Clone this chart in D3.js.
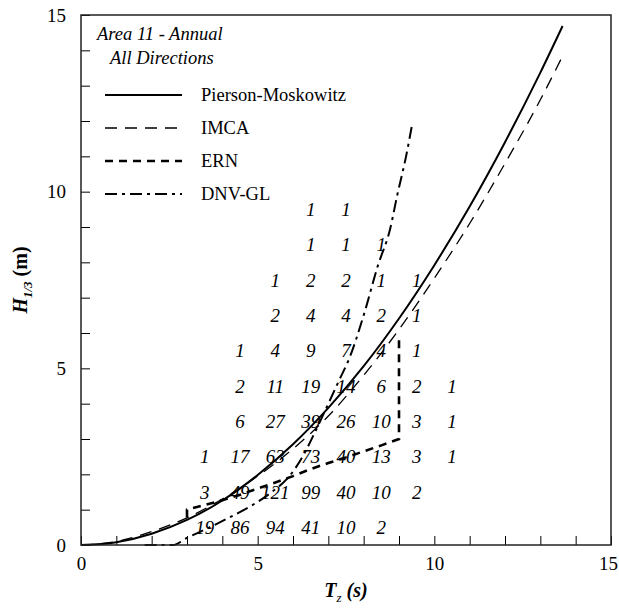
<!DOCTYPE html>
<html>
<head>
<meta charset="utf-8">
<script src="https://cdn.jsdelivr.net/npm/d3@7"></script>
<style>
  body { margin: 0; background: #fff; }
  svg text { font-family: "Liberation Serif", "Times New Roman", serif; fill: #000; }
</style>
</head>
<body>
<div id="chart"></div>
<script>
// Scatter table (number of observations) : Hs bin centres, first Tz bin of each row, counts
var hsRows   = [0.5, 1.5, 2.5, 3.5, 4.5, 5.5, 6.5, 7.5, 8.5, 9.5];
var tzFirst  = [3.5, 3.5, 3.5, 4.5, 4.5, 4.5, 5.5, 5.5, 6.5, 6.5];
var counts = [
  [19, 86, 94, 41, 10, 2],
  [3, 49, 121, 99, 40, 10, 2],
  [1, 17, 63, 73, 40, 13, 3, 1],
  [6, 27, 39, 26, 10, 3, 1],
  [2, 11, 19, 14, 6, 2, 1],
  [1, 4, 9, 7, 4, 1],
  [2, 4, 4, 2, 1],
  [1, 2, 2, 1, 1],
  [1, 1, 1],
  [1, 1]
];

// Curves (Tz, H1/3)
var pmTz  = [0, 1, 2, 3, 4, 5, 6, 7, 8, 9, 10, 11, 12, 13, 13.63];
var pmHs  = [0, 0.08, 0.32, 0.71, 1.26, 1.98, 2.85, 3.88, 5.06, 6.41, 7.92, 9.58, 11.4, 13.37, 14.69];

var imcaTz = [0, 1, 2, 3, 4, 5, 6, 7, 8, 9, 10, 11, 12, 13, 13.6];
var imcaHs = [0, 0.1, 0.38, 0.77, 1.3, 1.95, 2.72, 3.65, 4.8, 6.1, 7.55, 9.1, 10.8, 12.6, 13.78];

var ernTz = [3.0, 3.0, 3.5, 4.0, 4.5, 5.0, 5.5, 6.0, 6.5, 7.0, 7.5, 8.0, 8.5, 9.0, 9.0];
var ernHs = [0.78, 1.0, 1.13, 1.27, 1.42, 1.6, 1.77, 1.95, 2.15, 2.32, 2.48, 2.65, 2.82, 3.0, 5.88];

var dnvTz = [1.8, 2.6, 3.0, 3.6, 4.2, 4.8, 5.4, 5.9, 6.3, 6.6, 7.0, 7.3, 7.6, 8.0, 8.4, 8.75, 8.95, 9.2, 9.36];
var dnvHs = [0, 0, 0.2, 0.48, 0.78, 1.1, 1.5, 1.95, 2.55, 3.15, 4.0, 4.65, 5.3, 6.5, 7.9, 8.95, 9.9, 11.0, 11.84];

var seriesNames = ["Pierson-Moskowitz", "IMCA", "ERN", "DNV-GL"];

var W = 619, H = 610;
var margin = {top: 15, right: 8, bottom: 65, left: 81};
var w = 530, h = 530;

var svg = d3.select("#chart").append("svg")
  .attr("width", W).attr("height", H);
var g = svg.append("g").attr("transform", "translate(" + margin.left + "," + margin.top + ")");

var x = d3.scaleLinear().domain([0, 15]).range([0, w]);
var y = d3.scaleLinear().domain([0, 15]).range([h, 0]);

//Axes - ticks inside, every 1, labels every 5
var fmt = function(d) { return d % 5 === 0 ? d : ""; };
var xAxis = d3.axisBottom(x).tickValues(d3.range(0, 16)).tickSize(-9).tickPadding(12).tickFormat(fmt);
var yAxis = d3.axisLeft(y).tickValues(d3.range(0, 16)).tickSize(-9).tickPadding(15).tickFormat(fmt);

var gx = g.append("g").attr("transform", "translate(0," + h + ")").call(xAxis);
var gy = g.append("g").call(yAxis);
[gx, gy].forEach(function(a) {
  a.select(".domain").remove();
  a.selectAll(".tick line").attr("stroke", "#000").attr("stroke-width", 1);
  a.selectAll(".tick text").attr("font-size", 19).attr("font-family", "Liberation Serif");
});
// keep the last x label inside the page
gx.selectAll(".tick text").filter(function(d) { return d === 15; }).attr("dx", -3);

//Scatter counts
hsRows.forEach(function(hs, r) {
  counts[r].forEach(function(c, i) {
    g.append("text")
      .attr("x", x(tzFirst[r] + i))
      .attr("y", y(hs))
      .attr("dy", "0.35em")
      .attr("text-anchor", "middle")
      .attr("font-size", 19)
      .attr("font-style", "italic")
      .text(c);
  });
});

//Line styles
var styles = [
  {width: 2,   dash: null},
  {width: 1.3, dash: "12,8"},
  {width: 2.6, dash: "8,6"},
  {width: 2,   dash: "12,5,3,5"}
];

var smooth = d3.line().curve(d3.curveMonotoneX)
  .x(function(d) { return x(d[0]); }).y(function(d) { return y(d[1]); });
var straight = d3.line().curve(d3.curveLinear)
  .x(function(d) { return x(d[0]); }).y(function(d) { return y(d[1]); });

var curves = [
  {data: d3.zip(pmTz, pmHs), gen: smooth},
  {data: d3.zip(imcaTz, imcaHs), gen: smooth},
  {data: d3.zip(ernTz, ernHs), gen: straight},
  {data: d3.zip(dnvTz, dnvHs), gen: smooth}
];

curves.forEach(function(c, i) {
  g.append("path")
    .datum(c.data)
    .attr("d", c.gen)
    .attr("fill", "none")
    .attr("stroke", "#000")
    .attr("stroke-width", styles[i].width)
    .attr("stroke-dasharray", styles[i].dash);
});

//Frame
g.append("rect")
  .attr("width", w).attr("height", h)
  .attr("fill", "none").attr("stroke", "#222").attr("stroke-width", 1.5);

//Title block
svg.append("text").attr("x", 97).attr("y", 40)
  .attr("font-size", 18.5).attr("font-style", "italic").text("Area 11 - Annual");
svg.append("text").attr("x", 110).attr("y", 64)
  .attr("font-size", 18.5).attr("font-style", "italic").text("All Directions");

//Legend
var legend = svg.append("g");
seriesNames.forEach(function(name, i) {
  var ly = 95 + i * 33;
  legend.append("line")
    .attr("x1", 105).attr("x2", 182).attr("y1", ly).attr("y2", ly)
    .attr("stroke", "#000")
    .attr("stroke-width", styles[i].width)
    .attr("stroke-dasharray", styles[i].dash);
  legend.append("text")
    .attr("x", 201).attr("y", ly).attr("dy", "0.35em")
    .attr("font-size", 18.5).text(name);
});

//Axis titles
var xt = svg.append("text")
  .attr("x", margin.left + w / 2).attr("y", 597)
  .attr("text-anchor", "middle").attr("font-size", 20)
  .attr("font-weight", "bold").attr("font-style", "italic");
xt.append("tspan").text("T");
xt.append("tspan").attr("dy", 5).attr("font-size", 13).attr("font-weight", "normal").text("z");
xt.append("tspan").attr("dy", -5).text(" (s)");

var yt = svg.append("text")
  .attr("transform", "translate(27," + (margin.top + h / 2) + ") rotate(-90)")
  .attr("text-anchor", "middle").attr("font-size", 20).attr("font-weight", "bold");
yt.append("tspan").attr("font-style", "italic").text("H");
yt.append("tspan").attr("dy", 5).attr("font-size", 13).attr("font-style", "italic").text("1/3");
yt.append("tspan").attr("dy", -5).text(" (m)");
</script>
</body>
</html>
